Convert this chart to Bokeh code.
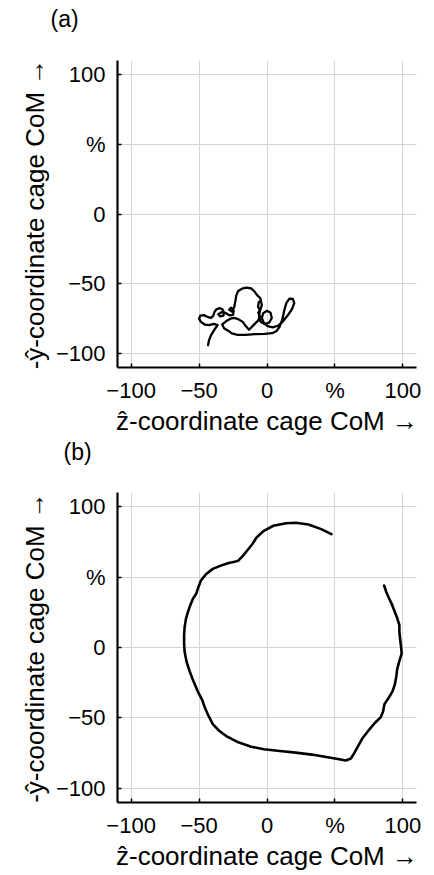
from bokeh.plotting import figure
from bokeh.layouts import column
from bokeh.models import Range1d, FixedTicker, LinearAxis
from bokeh.embed import file_html
from bokeh.resources import INLINE

# ---------------- data ----------------
tick_values = [-100, -50, 0, 50, 100]
tick_overrides = {50: "%"}
x_label = "ẑ-coordinate cage CoM →"
y_label = "-ŷ-coordinate cage CoM →"
panel_labels = ["(a)", "(b)"]

# panel (a): tangled trajectory of the cage centre of mass (%)
a_z = [-43.4, -42.7, -41.5, -39.6, -37.7, -36.3, -39.2, -42.5, -45.8, -48.6,
       -50.0, -49.1, -46.5, -43.9, -41.5, -39.6, -38.7, -37.3, -34.9, -32.8,
       -31.6, -32.1, -34.4, -35.8, -33.5, -30.2, -27.4, -25.0, -24.5, -26.4,
       -27.8, -25.9, -24.1, -23.3, -22.6, -21.2, -18.4, -15.1, -12.0, -9.4,
       -7.3, -5.0, -4.5, -6.1, -6.6, -5.2, -6.4, -5.2, -6.4, -9.0,
       -11.8, -13.2, -15.8, -17.9, -20.8, -24.1, -26.9, -30.2, -33.0, -31.6,
       -28.3, -25.9, -21.7, -15.8, -8.7, -1.7, 3.8, 7.1, 9.4, 11.3,
       12.7, 14.2, 16.5, 19.1, 20.0, 18.4, 15.6, 11.8, 8.0, 4.2,
       0.5, -2.4, -3.8, -2.8, 0.0, 2.6, 3.5, 1.7, -1.9, -4.7,
       -5.9, -5.2, -3.8, -4.7]
a_y = [-94.0, -90.7, -87.5, -84.3, -81.5, -79.6, -78.7, -79.6, -79.2, -77.3,
       -75.0, -72.9, -72.5, -73.6, -74.5, -73.1, -70.4, -68.3, -67.4, -68.3,
       -70.6, -72.9, -73.4, -71.8, -70.4, -71.1, -72.7, -72.2, -69.4, -67.1,
       -68.5, -69.9, -66.7, -62.5, -58.3, -55.1, -53.5, -52.8, -53.2, -55.3,
       -58.1, -60.2, -62.0, -63.4, -66.7, -68.5, -70.8, -73.1, -76.2, -78.7,
       -81.5, -82.9, -80.1, -77.3, -75.5, -74.5, -75.0, -76.9, -79.2, -81.9,
       -83.8, -85.6, -86.6, -86.6, -86.1, -85.9, -85.4, -83.8, -80.6, -75.5,
       -69.2, -63.9, -60.6, -60.9, -63.9, -68.1, -72.2, -76.9, -80.1, -81.3,
       -80.3, -77.8, -74.5, -71.1, -69.4, -70.8, -74.5, -77.8, -78.9, -77.3,
       -73.6, -69.2, -65.3, -61.1]

# panel (b): near-circular trajectory (%)
b_z = [47.4, 39.9, 30.5, 21.1, 14.1, 4.7, -2.3, -7.7, -10.6, -14.1,
       -17.6, -21.1, -23.9, -28.2, -34.0, -39.9, -45.1, -48.6, -50.5, -52.1,
       -54.5, -56.3, -58.2, -59.6, -60.6, -61.0, -61.0, -60.6, -59.2, -56.8,
       -54.0, -50.9, -47.7, -45.8, -43.2, -39.9, -35.2, -29.3, -21.1, -11.7,
       -2.3, 9.4, 21.1, 32.9, 44.6, 52.1, 58.0, 61.7, 64.3, 66.9,
       70.4, 75.1, 79.3, 83.6, 85.4, 86.4, 89.7, 92.5, 94.1, 95.1,
       95.8, 97.4, 99.1, 98.6, 97.9, 97.4, 97.4, 95.8, 93.9, 92.0,
       89.7, 87.6, 86.2]
b_y = [80.5, 84.0, 87.3, 88.5, 88.2, 86.4, 82.8, 78.1, 73.6, 69.4,
       65.2, 61.6, 60.9, 60.0, 58.1, 55.8, 51.8, 47.5, 42.8, 38.1,
       34.6, 30.4, 25.2, 20.5, 14.6, 8.7, 2.8, -3.1, -10.1, -17.2,
       -24.2, -31.3, -37.2, -42.4, -48.2, -54.4, -59.1, -63.3, -67.3, -70.4,
       -72.2, -73.4, -74.6, -76.0, -77.9, -79.1, -80.2, -78.8, -74.8, -70.1,
       -64.2, -58.4, -53.6, -49.6, -45.4, -40.2, -35.5, -30.8, -26.1, -20.7,
       -15.3, -9.6, -4.2, 0.9, 6.4, 11.1, 15.8, 20.9, 25.6, 30.4,
       35.1, 39.8, 44.0]

FONT = "Liberation Sans"


def make_panel(xs, ys, label, height, b_left, b_right, b_top, b_bottom,
               title_offset, gap, lw):
    p = figure(width=434, height=height, output_backend="svg",
               toolbar_location=None, tools="",
               x_range=Range1d(-110, 110), y_range=Range1d(-110, 110),
               min_border_left=b_left, min_border_right=b_right,
               min_border_top=b_top, min_border_bottom=b_bottom,
               title=label)
    xax = p.below[0]
    yax = p.left[0]
    for ax in (xax, yax):
        ax.ticker = FixedTicker(ticks=tick_values)
        ax.major_label_overrides = tick_overrides
        ax.minor_tick_line_color = None
        ax.major_tick_in = 4
        ax.major_tick_out = 0
        ax.major_tick_line_width = 1.5
        ax.major_tick_line_color = "black"
        ax.axis_line_width = 2.2
        ax.axis_line_color = "black"
        ax.major_label_text_font = FONT
        ax.major_label_text_font_size = "22px"
        ax.major_label_text_color = "black"
        ax.axis_label_text_font = FONT
        ax.axis_label_text_font_size = "26px"
        ax.axis_label_text_font_style = "normal"
        ax.axis_label_text_color = "black"
    xax.axis_label = x_label
    yax.axis_label = y_label
    xax.major_label_standoff = 10
    yax.major_label_standoff = 12
    xax.axis_label_standoff = 0
    yax.axis_label_standoff = 3
    for g in (p.xgrid[0], p.ygrid[0]):
        g.ticker = FixedTicker(ticks=tick_values)
        g.grid_line_color = "#d4d4d4"
        g.grid_line_width = 1

    # invisible spacer (tick-only axis) between the panel letter and the frame
    spacer = LinearAxis(ticker=FixedTicker(ticks=[0]),
                        major_label_overrides={0: ""},
                        major_label_text_font_size="1px",
                        major_label_standoff=0,
                        axis_line_color=None, major_tick_line_color=None,
                        minor_tick_line_color=None, minor_tick_out=0,
                        major_tick_in=0, major_tick_out=gap)
    p.add_layout(spacer, "above")

    p.title.align = "left"
    p.title.vertical_align = "top"
    p.title.offset = title_offset
    p.title.standoff = 0
    p.title.text_font = FONT
    p.title.text_font_size = "23px"
    p.title.text_font_style = "normal"
    p.title.text_color = "black"
    p.outline_line_color = None
    p.background_fill_color = "white"
    p.border_fill_color = "white"
    p.line(xs, ys, line_color="black", line_width=lw,
           line_join="round", line_cap="round")
    return p


pa = make_panel(a_z, a_y, panel_labels[0], 438, 117, 3, 60, 65, -67, 27, 2.3)
pb = make_panel(b_z, b_y, panel_labels[1], 437, 104, 18, 52, 73, -54, 26, 2.6)

layout = column(pa, pb, spacing=0)
open("out.html", "w").write(file_html(layout, INLINE))
